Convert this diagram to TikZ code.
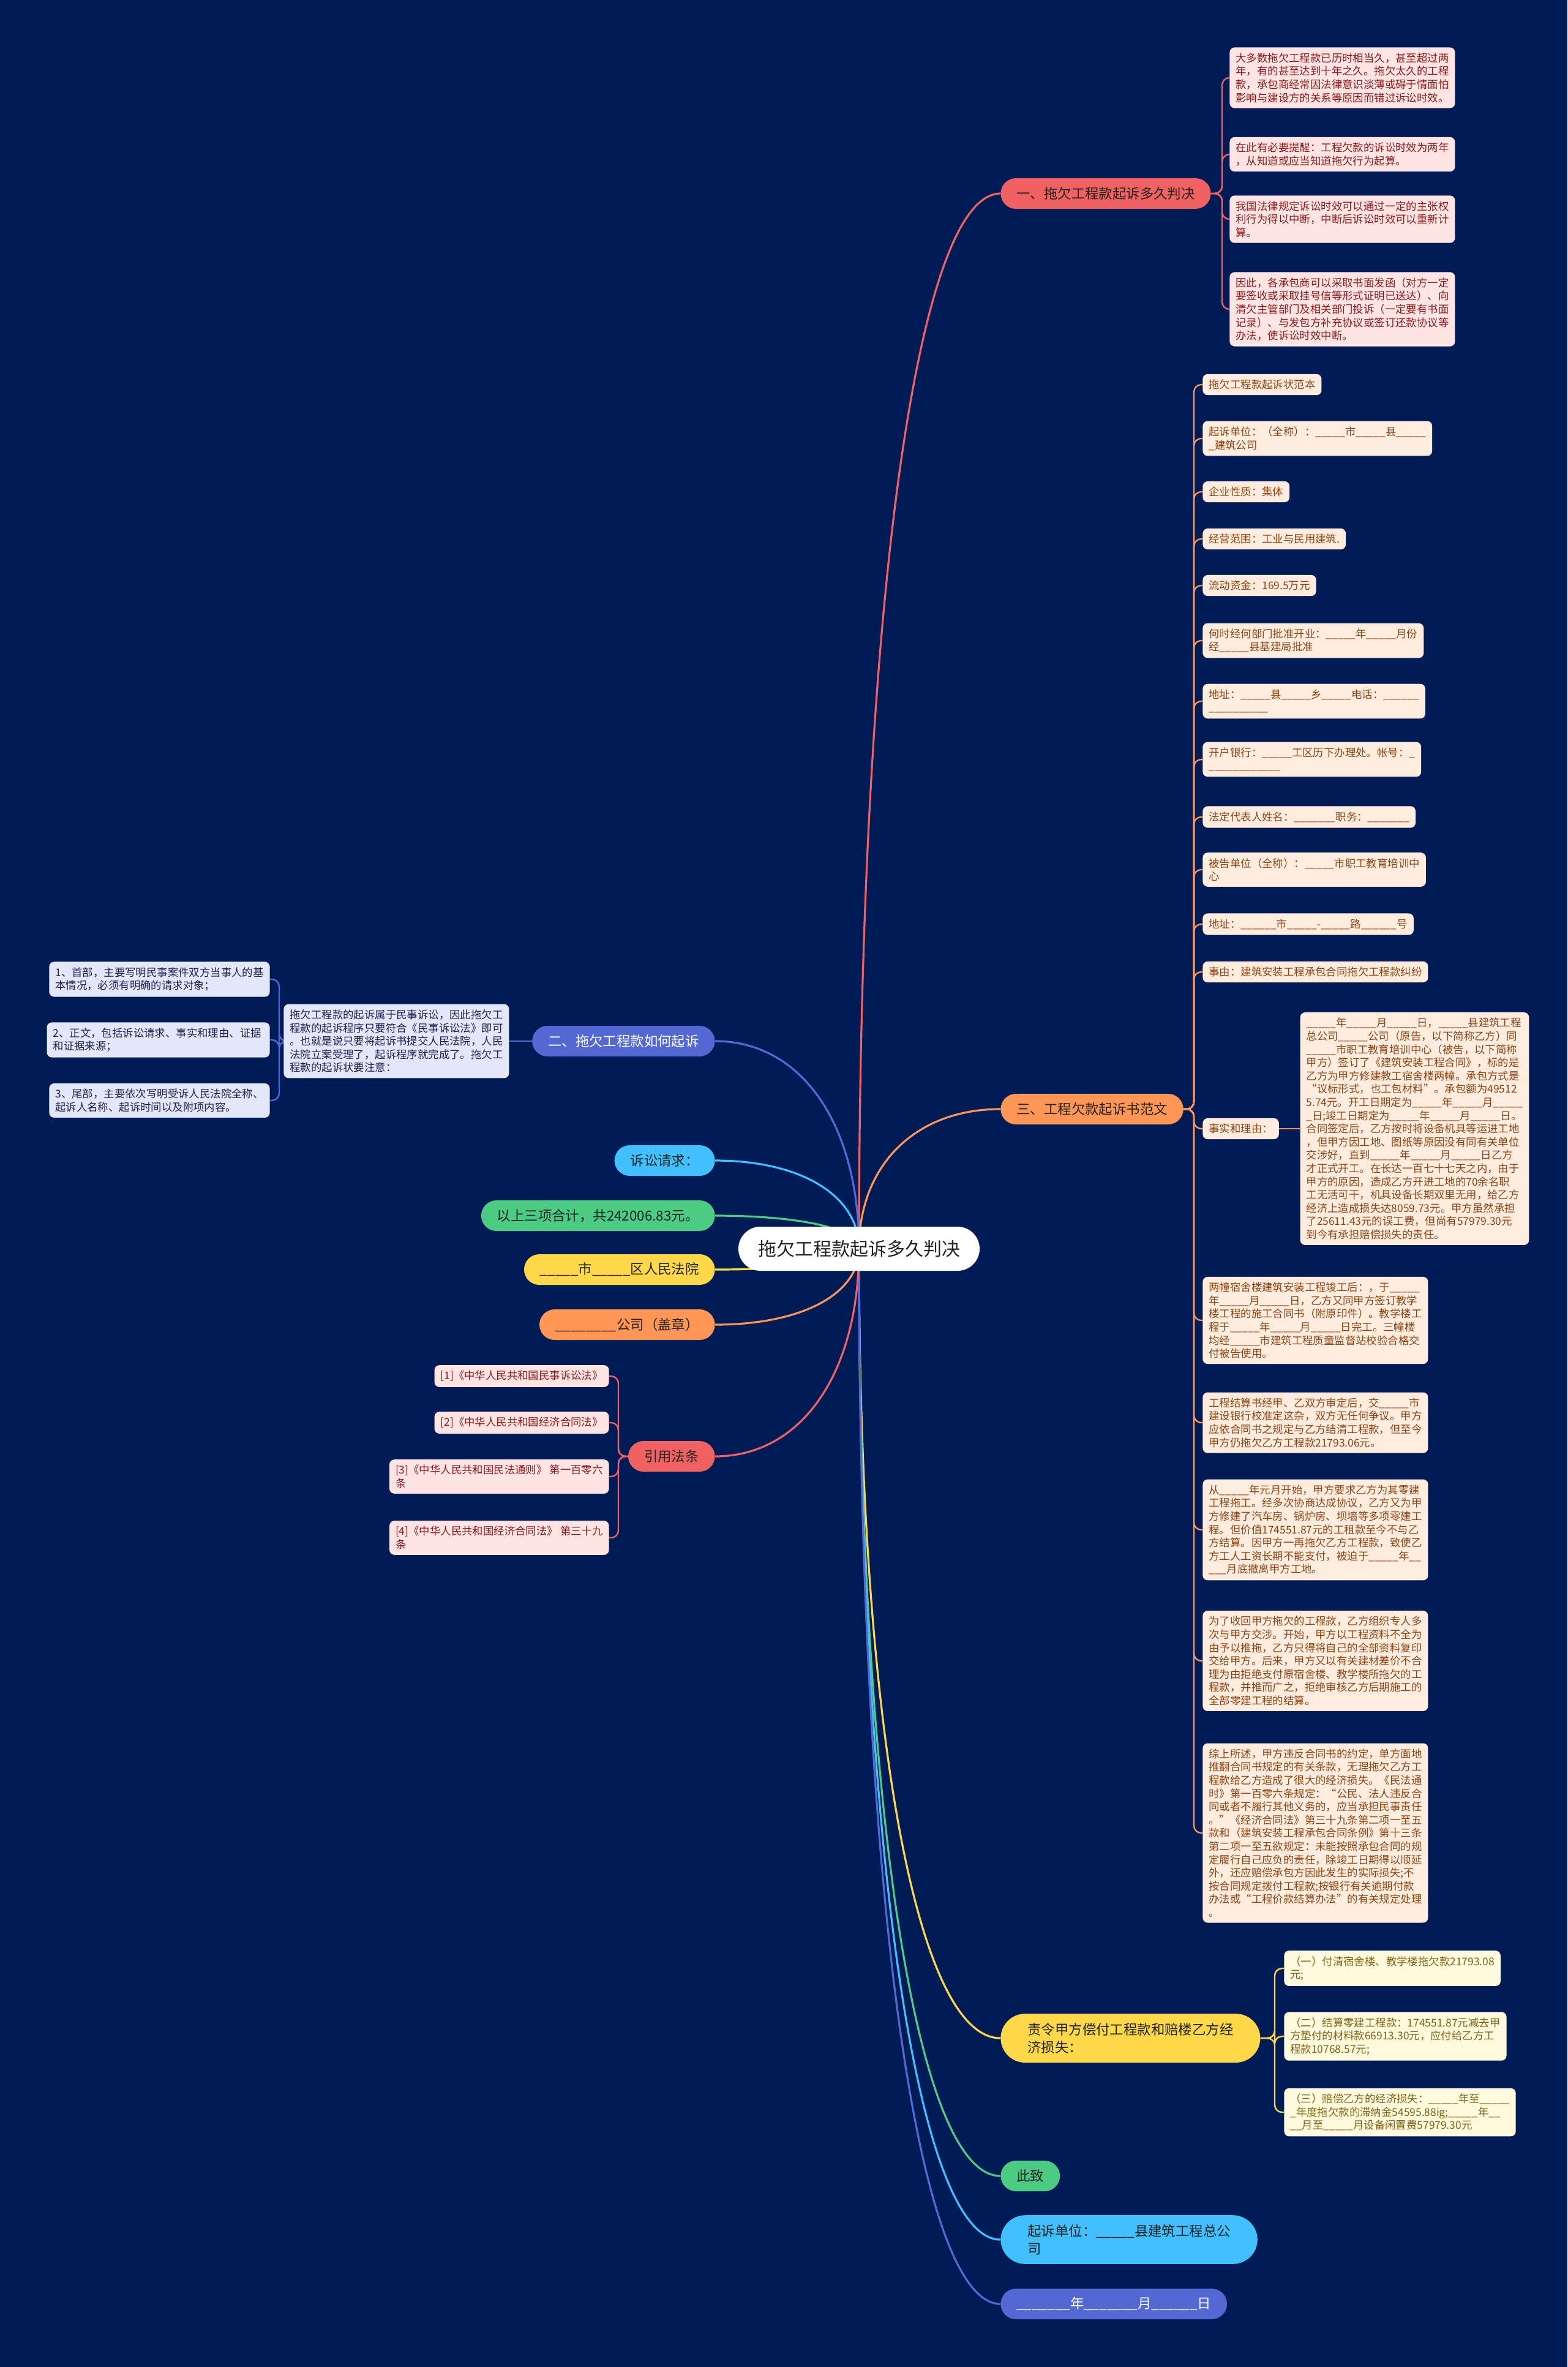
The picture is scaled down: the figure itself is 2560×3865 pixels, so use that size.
\documentclass[tikz,border=0pt]{standalone}
\usepackage{fontspec}
\setmainfont{Noto Sans CJK SC}
\usetikzlibrary{positioning, calc, backgrounds}
\definecolor{bgnavy}{RGB}{1,27,87}
\definecolor{cred}{RGB}{240,98,98}
\definecolor{corange}{RGB}{255,150,85}
\definecolor{cindigo}{RGB}{84,104,212}
\definecolor{csky}{RGB}{64,192,255}
\definecolor{cgreen}{RGB}{76,203,133}
\definecolor{cyellow}{RGB}{255,216,74}
\definecolor{pinkfill}{RGB}{255,228,228}
\definecolor{pinktext}{RGB}{139,26,26}
\definecolor{peachfill}{RGB}{255,236,222}
\definecolor{peachtext}{RGB}{139,69,19}
\definecolor{lavfill}{RGB}{228,231,248}
\definecolor{lavtext}{RGB}{26,35,80}
\definecolor{creamfill}{RGB}{255,249,222}
\definecolor{creamtext}{RGB}{128,100,20}
\definecolor{darktext}{RGB}{34,34,34}
\catcode`\_=12

\begin{document}
\begin{tikzpicture}[
        x=0.5pt, y=-0.5pt,
        rootnode/.style={rectangle, rounded corners=18pt, fill=white, minimum height=36pt, inner xsep=16pt, text=darktext, font=\fontsize{15}{18}\selectfont},
        branch/.style={rectangle, rounded corners=12.5pt, minimum height=25pt, inner xsep=13pt, text=darktext, font=\fontsize{11.2}{14.5}\selectfont},
        twoline/.style={align=left, rounded corners=20pt, inner xsep=22pt, inner ysep=7.5pt},
        leaf/.style={rectangle, rounded corners=4pt, align=left, inner xsep=5pt, inner ysep=4.5pt, font=\fontsize{8.7}{10.8}\selectfont},
        pinkleaf/.style={leaf, fill=pinkfill, text=pinktext},
        peachleaf/.style={leaf, fill=peachfill, text=peachtext, anchor=west},
        lavleaf/.style={leaf, fill=lavfill, text=lavtext},
        creamleaf/.style={leaf, fill=creamfill, text=creamtext, anchor=west},
        link/.style={line width=1.6pt},
        sublink/.style={line width=1.2pt, rounded corners=6pt},
        rootlink/.style={to path={.. controls ($(\tikztostart)!0.6!(\tikztostart|-\tikztotarget)$) and ($(\tikztotarget)!0.6!(\tikztostart|-\tikztotarget)$) .. (\tikztotarget)}}
    ]
        \useasboundingbox (0,0) rectangle (2560,3865);

        % Root
        \node[rootnode] (root) at (1403,2039) {拖欠工程款起诉多久判决};

        % Right branches
        \node[branch, fill=cred, anchor=west] (b1) at (1634,316) {一、拖欠工程款起诉多久判决};
        \node[branch, fill=corange, anchor=west] (b3) at (1634,1811) {三、工程欠款起诉书范文};
        \node[branch, twoline, fill=cyellow, anchor=west] (bz) at (1634,3328) {责令甲方偿付工程款和赔楼乙方经\\济损失：};
        \node[branch, fill=cgreen, anchor=west] (bcz) at (1634,3553) {此致};
        \node[branch, twoline, fill=csky, anchor=west] (bdw) at (1634,3657) {起诉单位：_____县建筑工程总公\\司};
        \node[branch, fill=cindigo, text=white, anchor=west] (bdate) at (1634,3762) {_______年_______月______日};

        % Left branches
        \node[branch, fill=cindigo, text=white, anchor=east] (b2) at (1168,1700) {二、拖欠工程款如何起诉};
        \node[branch, fill=csky, anchor=east] (bq) at (1168,1895) {诉讼请求：};
        \node[branch, fill=cgreen, anchor=east] (bsum) at (1168,1985) {以上三项合计，共242006.83元。};
        \node[branch, fill=cyellow, anchor=east] (bcourt) at (1168,2073) {_____市_____区人民法院};
        \node[branch, fill=corange, anchor=east] (bco) at (1168,2163) {________公司（盖章）};
        \node[branch, fill=cred, anchor=east] (blaw) at (1168,2378) {引用法条};

        % Section one
        \node[pinkleaf, anchor=west] (l1a) at (2008,127) {大多数拖欠工程款已历时相当久，甚至超过两\\年，有的甚至达到十年之久。拖欠太久的工程\\款，承包商经常因法律意识淡薄或碍于情面怕\\影响与建设方的关系等原因而错过诉讼时效。};
        \node[pinkleaf, anchor=west] (l1b) at (2008,252) {在此有必要提醒：工程欠款的诉讼时效为两年\\，从知道或应当知道拖欠行为起算。};
        \node[pinkleaf, anchor=west] (l1c) at (2008,358) {我国法律规定诉讼时效可以通过一定的主张权\\利行为得以中断，中断后诉讼时效可以重新计\\算。};
        \node[pinkleaf, anchor=west] (l1d) at (2008,505) {因此，各承包商可以采取书面发函（对方一定\\要签收或采取挂号信等形式证明已送达）、向\\清欠主管部门及相关部门投诉（一定要有书面\\记录）、与发包方补充协议或签订还款协议等\\办法，使诉讼时效中断。};

        % Section three
        \node[peachleaf] (l3a) at (1964,628) {拖欠工程款起诉状范本};
        \node[peachleaf] (l3b) at (1964,716) {起诉单位：（全称）：_____市_____县_____\\_建筑公司};
        \node[peachleaf] (l3c) at (1964,803) {企业性质：集体};
        \node[peachleaf] (l3d) at (1964,880) {经营范围：工业与民用建筑.};
        \node[peachleaf] (l3e) at (1964,956) {流动资金：169.5万元};
        \node[peachleaf] (l3f) at (1964,1046) {何时经何部门批准开业：_____年_____月份\\经_____县基建局批准};
        \node[peachleaf] (l3g) at (1964,1145) {地址：_____县_____乡_____电话：______\\__________};
        \node[peachleaf] (l3h) at (1964,1240) {开户银行：_____工区历下办理处。帐号：_\\____________};
        \node[peachleaf] (l3i) at (1964,1334) {法定代表人姓名：_______职务：_______};
        \node[peachleaf] (l3j) at (1964,1420) {被告单位（全称）：_____市职工教育培训中\\心};
        \node[peachleaf] (l3k) at (1964,1509) {地址：______市_____-_____路______号};
        \node[peachleaf] (l3l) at (1964,1587) {事由：建筑安装工程承包合同拖欠工程款纠纷};
        \node[peachleaf] (l3m) at (1964,1843) {事实和理由：};
        \node[peachleaf, right=17pt of l3m] (fact) {_____年_____月_____日，_____县建筑工程\\总公司_____公司（原告，以下简称乙方）同\\_____市职工教育培训中心（被告，以下简称\\甲方）签订了《建筑安装工程合同》，标的是\\乙方为甲方修建教工宿舍楼两幢。承包方式是\\“议标形式，也工包材料”。承包额为49512\\5.74元。开工日期定为_____年_____月_____\\_日;竣工日期定为_____年_____月_____日。\\合同签定后，乙方按时将设备机具等运进工地\\，但甲方因工地、图纸等原因没有同有关单位\\交涉好，直到_____年_____月_____日乙方\\才正式开工。在长达一百七十七天之内，由于\\甲方的原因，造成乙方开进工地的70余名职\\工无活可干，机具设备长期双里无用，给乙方\\经济上造成损失达8059.73元。甲方虽然承担\\了25611.43元的误工费，但尚有57979.30元\\到今有承担赔偿损失的责任。};
        \node[peachleaf] (l3n) at (1964,2156) {两幢宿舍楼建筑安装工程竣工后：，于_____\\年_____月_____日，乙方又同甲方签订教学\\楼工程的施工合同书（附原印件）。教学楼工\\程于_____年_____月_____日完工。三幢楼\\均经_____市建筑工程质童监督站校验合格交\\付被告使用。};
        \node[peachleaf] (l3o) at (1964,2323) {工程结算书经甲、乙双方审定后，交_____市\\建设银行校准定这杂，双方无任何争议。甲方\\应依合同书之规定与乙方结清工程款，但至今\\甲方仍拖欠乙方工程款21793.06元。};
        \node[peachleaf] (l3p) at (1964,2498) {从_____年元月开始，甲方要求乙方为其零建\\工程拖工。经多次协商达成协议，乙方又为甲\\方修建了汽车房、锅炉房、坝墙等多项零建工\\程。但价值174551.87元的工租款至今不与乙\\方结算。因甲方一再拖欠乙方工程款，致使乙\\方工人工资长期不能支付，被迫于_____年__\\___月底撤离甲方工地。};
        \node[peachleaf] (l3q) at (1964,2712) {为了收回甲方拖欠的工程款，乙方组织专人多\\次与甲方交涉。开始，甲方以工程资料不全为\\由予以推拖，乙方只得将自己的全部资料复印\\交给甲方。后来，甲方又以有关建材差价不合\\理为由拒绝支付原宿舍楼、教学楼所拖欠的工\\程款，并推而广之，拒绝审核乙方后期施工的\\全部零建工程的结算。};
        \node[peachleaf] (l3r) at (1964,2993) {综上所述，甲方违反合同书的约定，单方面地\\推翻合同书规定的有关条款，无理拖欠乙方工\\程款给乙方造成了很大的经济损失。《民法通\\时》第一百零六条规定：“公民、法人违反合\\同或者不履行其他义务的，应当承担民事责任\\。”《经济合同法》第三十九条第二项一至五\\款和（建筑安装工程承包合同条例》第十三条\\第二项一至五欲规定：未能按照承包合同的规\\定履行自己应负的责任，除竣工日期得以顺延\\外，还应赔偿承包方因此发生的实际损失;不\\按合同规定拨付工程款;按银行有关逾期付款\\办法或“工程价款结算办法”的有关规定处理\\。};

        % Section two
        \node[lavleaf, left=18.5pt of b2] (desc) {拖欠工程款的起诉属于民事诉讼，因此拖欠工\\程款的起诉程序只要符合《民事诉讼法》即可\\。也就是说只要将起诉书提交人民法院，人民\\法院立案受理了，起诉程序就完成了。拖欠工\\程款的起诉状要注意：};
        \node[lavleaf, anchor=east] (l2a) at (441,1599) {1、首部，主要写明民事案件双方当事人的基\\本情况，必须有明确的请求对象；};
        \node[lavleaf, anchor=east, text width=172pt] (l2b) at (441,1698) {2、正文，包括诉讼请求、事实和理由、证据\\和证据来源；};
        \node[lavleaf, anchor=east] (l2c) at (441,1797) {3、尾部，主要依次写明受诉人民法院全称、\\起诉人名称、起诉时间以及附项内容。};

        % Cited laws
        \node[pinkleaf, anchor=east] (l4a) at (995,2247) {[1]《中华人民共和国民事诉讼法》};
        \node[pinkleaf, anchor=east] (l4b) at (995,2323) {[2]《中华人民共和国经济合同法》};
        \node[pinkleaf, anchor=east] (l4c) at (995,2411) {[3]《中华人民共和国民法通则》 第一百零六\\条};
        \node[pinkleaf, anchor=east] (l4d) at (995,2511) {[4]《中华人民共和国经济合同法》 第三十九\\条};

        % Claims
        \node[creamleaf] (l5a) at (2097,3214) {（一）付清宿舍楼、教学楼拖欠款21793.08\\元;};
        \node[creamleaf] (l5b) at (2097,3325) {（二）结算零建工程款：174551.87元减去甲\\方垫付的材料款66913.30元，应付给乙方工\\程款10768.57元;};
        \node[creamleaf] (l5c) at (2097,3449) {（三）赔偿乙方的经济损失：_____年至_____\\_年度拖欠款的滞纳金54595.88ig;_____年__\\__月至_____月设备闲置费57979.30元};

        \begin{scope}[on background layer]
            \fill[bgnavy] (0,0) rectangle (2560,3865);

            % Links from the root
            \foreach \br/\col in {b1/cred, b3/corange, bz/cyellow, bcz/cgreen, bdw/csky, bdate/cindigo}
                \draw[link, \col] (root.center) to[rootlink] (\br.west);
            \foreach \br/\col in {b2/cindigo, bq/csky, bsum/cgreen, bcourt/cyellow, bco/corange, blaw/cred}
                \draw[link, \col] (root.center) to[rootlink] (\br.east);

            % Links to the leaves
            \foreach \n in {l1a,l1b,l1c,l1d}
                \draw[sublink, cred] (b1.east) -| ($(\n.west)+(-12,0)$) -- (\n.west);
            \foreach \n in {l3a,l3b,l3c,l3d,l3e,l3f,l3g,l3h,l3i,l3j,l3k,l3l,l3m,l3n,l3o,l3p,l3q,l3r}
                \draw[sublink, corange] (b3.east) -| ($(\n.west)+(-14,0)$) -- (\n.west);
            \draw[sublink, corange] (l3m.east) -- (fact.west);
            \draw[sublink, cindigo] (b2.west) -- (desc.east);
            \foreach \n in {l2a,l2b,l2c}
                \draw[sublink, cindigo] (desc.west) -| ($(\n.east)+(15,0)$) -- (\n.east);
            \foreach \n in {l4a,l4b,l4c,l4d}
                \draw[sublink, cred] (blaw.west) -| ($(\n.east)+(15,0)$) -- (\n.east);
            \foreach \n in {l5a,l5b,l5c}
                \draw[sublink, cyellow] (bz.east) -| ($(\n.west)+(-15,0)$) -- (\n.west);
        \end{scope}

    \end{tikzpicture}
\end{document}
